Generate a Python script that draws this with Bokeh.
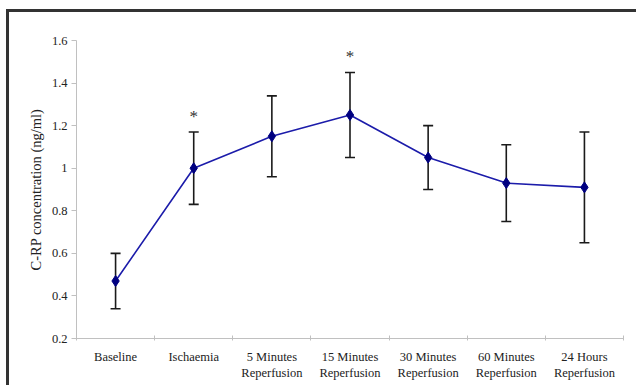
from bokeh.plotting import figure
from bokeh.models import ColumnDataSource, FixedTicker, Range1d, Whisker, TeeHead
from bokeh.core.properties import value
from bokeh.embed import file_html
from bokeh.resources import INLINE

categories = ["Baseline", "Ischaemia", "5 Minutes\nReperfusion", "15 Minutes\nReperfusion",
              "30 Minutes\nReperfusion", "60 Minutes\nReperfusion", "24 Hours\nReperfusion"]
means = [0.47, 1.00, 1.15, 1.25, 1.05, 0.93, 0.91]
lower = [0.34, 0.83, 0.96, 1.05, 0.90, 0.75, 0.65]
upper = [0.60, 1.17, 1.34, 1.45, 1.20, 1.11, 1.17]
star_index = [1, 3]
star_y = [1.20, 1.48]
y_ticks = [0.2, 0.4, 0.6, 0.8, 1.0, 1.2, 1.4, 1.6]
y_tick_labels = ["0.2", "0.4", "0.6", "0.8", "1", "1.2", "1.4", "1.6"]

xs = [i + 0.5 for i in range(len(categories))]
src = ColumnDataSource(dict(x=xs, y=means, lo=lower, hi=upper))

FONT = "Liberation Serif"
AX = "#c0c0c0"
FS = "12.5px"

p = figure(width=630, height=376, output_backend="svg", toolbar_location=None,
           x_range=Range1d(0, len(categories)), y_range=Range1d(0.2, 1.6),
           min_border_left=67, min_border_right=16, min_border_top=28, min_border_bottom=50)
p.margin = (9, 0, 0, 6)
p.styles = {"border-top": "3px solid #333333", "border-left": "3px solid #333333"}
p.outline_line_color = None
p.grid.visible = False
p.background_fill_color = "white"
p.border_fill_color = "white"

# x axis
p.xaxis.ticker = FixedTicker(ticks=xs, minor_ticks=list(range(len(categories) + 1)))
p.xaxis.major_label_overrides = {x: c for x, c in zip(xs, categories)}
p.xaxis.major_tick_out = 0
p.xaxis.major_tick_in = 0
p.xaxis.minor_tick_in = 3
p.xaxis.minor_tick_out = 2
p.xaxis.minor_tick_line_color = AX
p.xaxis.axis_line_color = AX
p.xaxis.major_label_text_font = FONT
p.xaxis.major_label_text_font_size = FS
p.xaxis.major_label_text_color = "#222222"
p.xaxis.major_label_standoff = 9

# y axis
p.yaxis.ticker = FixedTicker(ticks=y_ticks, minor_ticks=[])
p.yaxis.major_label_overrides = {t: l for t, l in zip(y_ticks, y_tick_labels)}
p.yaxis.major_tick_out = 5
p.yaxis.major_tick_in = 0
p.yaxis.major_tick_line_color = AX
p.yaxis.axis_line_color = AX
p.yaxis.major_label_text_font = FONT
p.yaxis.major_label_text_font_size = FS
p.yaxis.major_label_text_color = "#222222"
p.yaxis.major_label_standoff = 4
p.yaxis.axis_label = "C-RP concentration (ng/ml)"
p.yaxis.axis_label_text_font = FONT
p.yaxis.axis_label_text_font_style = "normal"
p.yaxis.axis_label_text_font_size = "14.5px"
p.yaxis.axis_label_text_color = "#222222"
p.yaxis.axis_label_standoff = 5

# error bars
w = Whisker(source=src, base="x", lower="lo", upper="hi", dimension="height",
            line_color="#1a1a1a", line_width=1.6,
            upper_head=TeeHead(size=10, line_color="#1a1a1a", line_width=1.6),
            lower_head=TeeHead(size=10, line_color="#1a1a1a", line_width=1.6))
p.add_layout(w)

p.line("x", "y", source=src, line_color="#1c1caa", line_width=1.6)
p.scatter("x", "y", source=src, marker="diamond", size=11, fill_color="#000080",
          line_color="#000080")

p.text(x=[xs[i] for i in star_index], y=star_y, text=["*", "*"],
       text_font=value(FONT), text_font_size="17px", text_color="#333333",
       text_align="center", text_baseline="bottom")

open("out.html", "w").write(file_html(p, INLINE))
